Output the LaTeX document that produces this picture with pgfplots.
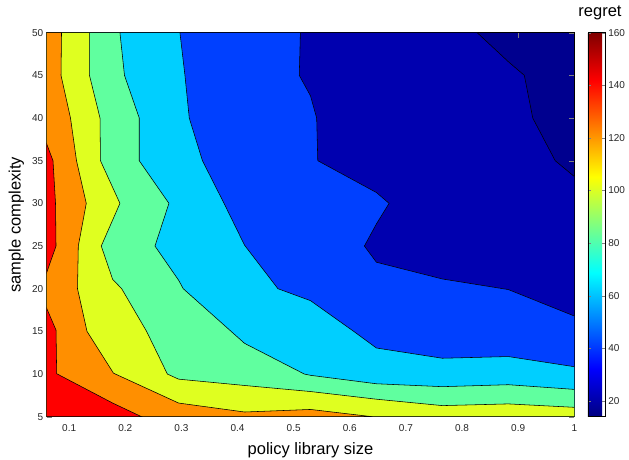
\documentclass[border=0pt]{standalone}
\usepackage{fontspec}
\setmainfont{Liberation Sans}
\usepackage{pgfplots}
\pgfplotsset{compat=1.18}
\definecolor{cnavy}{RGB}{0,0,143}
\definecolor{cdblue}{RGB}{0,0,175}
\definecolor{cblue}{RGB}{0,64,255}
\definecolor{ccyan}{RGB}{0,207,255}
\definecolor{cgreen}{RGB}{96,255,159}
\definecolor{cyellow}{RGB}{223,255,32}
\definecolor{corange}{RGB}{255,143,0}
\definecolor{cred}{RGB}{255,0,0}
\begin{document}
\begin{tikzpicture}
\useasboundingbox (-46.7pt,-42.3pt) rectangle (582.3pt,416.7pt);
\begin{axis}[
  at={(0pt,0pt)}, anchor=south west,
  scale only axis, width=527.6pt, height=384pt,
  xmin=0.06, xmax=1, ymin=5, ymax=50,
  clip mode=individual,
  xtick={0.1,0.2,0.3,0.4,0.5,0.6,0.7,0.8,0.9,1},
  ytick={5,10,15,20,25,30,35,40,45,50},
  tick align=inside, major tick length=5pt,
  /pgf/number format/assume math mode=true,
  tick label style={font=\fontsize{10}{12}\selectfont, color=black!85},
  xticklabel style={yshift=-4.5pt},
  axis line style={line width=0.6pt},
  axis background/.style={fill=cnavy},
  xlabel={policy library size}, ylabel={sample complexity},
  label style={font=\fontsize{16.5}{19}\selectfont},
  xlabel style={at={(axis description cs:0.5,-0.0984)}, anchor=base},
  ylabel style={at={(axis description cs:-0.0493,0.5)}, anchor=base},
  colormap/jet, colorbar, point meta min=14, point meta max=160,
  colorbar style={
    at={(parent axis.north east)}, anchor=north west, xshift=5pt,
    scale only axis, width=17.4pt, height=384pt,
    ytick={20,40,60,80,100,120,140,160},
    ytick pos=both, yticklabel pos=right,
    tick align=inside, major tick length=3.5pt,
    /pgf/number format/assume math mode=true,
    yticklabel style={font=\fontsize{10}{12}\selectfont, color=black!85, xshift=-0.5pt},
    axis line style={line width=0.6pt},
  },
  every axis plot/.append style={draw=black, line width=0.55pt, mark=none},
]
% v >= 20
\addplot[fill=cdblue] coordinates {(0.06,50) (0.827,50) (0.8825,46.6) (0.911,45) (0.926,40) (0.966,35) (1,33.15) (1,5) (0.06,5)} -- cycle;
% v >= 40
\addplot[fill=cblue] coordinates {(0.06,50) (0.512,50) (0.510,45) (0.53,42.6) (0.541,40) (0.543,35) (0.6475,31.27) (0.670,30) (0.6475,27.6) (0.626,25) (0.6475,23.1) (0.765,21.14) (0.8825,19.9) (1,16.8) (1,5) (0.06,5)} -- cycle;
% v >= 60
\addplot[fill=ccyan] coordinates {(0.06,50) (0.2974,50) (0.3063,45) (0.314,40) (0.3375,35) (0.376,30) (0.4125,25.1) (0.472,20) (0.53,18.6) (0.607,15) (0.6475,13.05) (0.765,11.85) (0.8825,12.05) (1,10.86) (1,5) (0.06,5)} -- cycle;
% v >= 80
\addplot[fill=cgreen] coordinates {(0.06,50) (0.1905,50) (0.1986,45) (0.2249,40) (0.2249,35) (0.2778,30) (0.2529,25) (0.295,21) (0.3033,20) (0.3886,15) (0.4125,13.6) (0.519,10) (0.53,9.85) (0.6475,8.86) (0.765,8.52) (0.8825,8.75) (1,8.2) (1,5) (0.06,5)} -- cycle;
% v >= 100
\addplot[fill=cyellow] coordinates {(0.06,50) (0.1359,50) (0.1362,45) (0.155,40) (0.1558,35) (0.1905,30) (0.1572,25) (0.1775,21.1) (0.1936,20) (0.238,15) (0.275,10) (0.295,9.4) (0.4125,8.66) (0.53,7.95) (0.6475,7.05) (0.765,6.3) (0.8825,6.5) (1,6.1) (1,5) (0.06,5)} -- cycle;
% v >= 120
\addplot[fill=corange] coordinates {(0.06,50) (0.0864,50) (0.0855,45) (0.1024,40) (0.1131,35) (0.1305,30) (0.1163,25) (0.1149,20) (0.1318,15) (0.179,10.1) (0.295,6.6) (0.4125,5.55) (0.53,5.85) (0.64,5) (0.06,5)} -- cycle;
% v >= 140
\addplot[fill=cred] coordinates {(0.06,36.96) (0.0712,35) (0.0757,30) (0.0766,25) (0.06,21.9)} -- cycle;
\addplot[fill=cred] coordinates {(0.06,17.7) (0.0766,15.15) (0.0778,10.04) (0.1775,6.6) (0.229,5) (0.06,5)} -- cycle;
\node[anchor=base, font=\fontsize{16.5}{19}\selectfont] at (rel axis cs:1.0487,1.0409) {regret};
\end{axis}
\end{tikzpicture}
\end{document}
